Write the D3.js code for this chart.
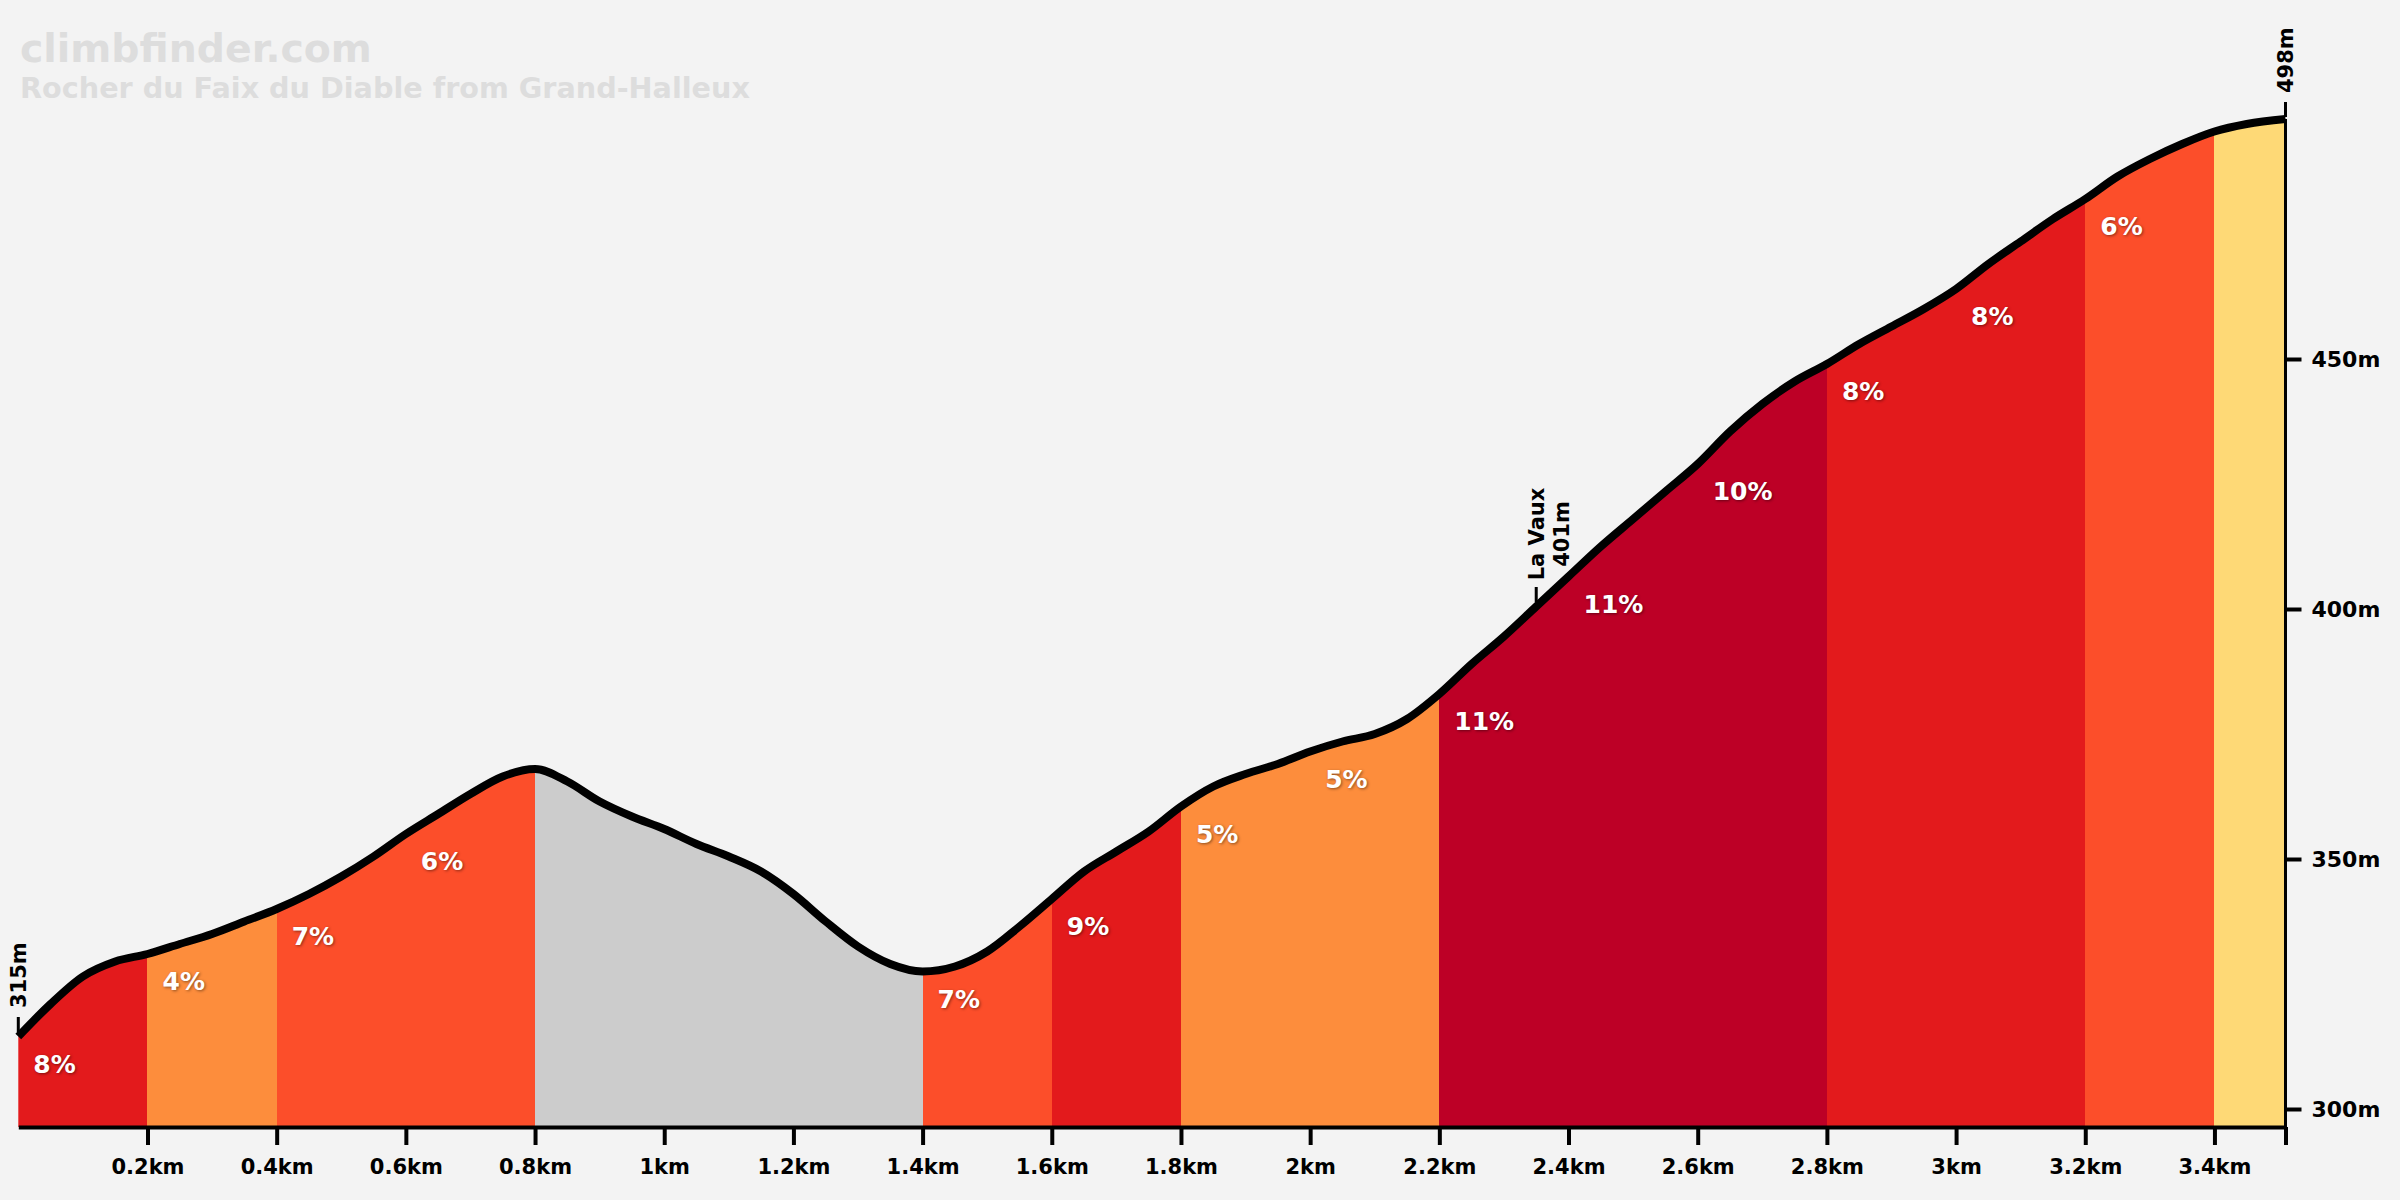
<!DOCTYPE html>
<html>
<head>
<meta charset="utf-8">
<script src="https://cdn.jsdelivr.net/npm/d3@7"></script>
<style>
  body { margin: 0; background: #f3f3f3; }
  svg { display: block; }
</style>
</head>
<body>
<svg id="chart" width="2400" height="1200"></svg>
<script>
// profile (km / m)
var distance = [0, 0.05, 0.1, 0.15, 0.2, 0.25, 0.3, 0.35, 0.4, 0.45, 0.5, 0.55, 0.6, 0.65, 0.7, 0.75, 0.8,
  0.85, 0.9, 0.95, 1.0, 1.05, 1.1, 1.15, 1.2, 1.25, 1.3, 1.35, 1.4, 1.45, 1.5, 1.55, 1.6, 1.65, 1.7, 1.75, 1.8,
  1.85, 1.9, 1.95, 2.0, 2.05, 2.1, 2.15, 2.2, 2.25, 2.3, 2.35, 2.4, 2.45, 2.5, 2.55, 2.6, 2.65, 2.7, 2.75, 2.8,
  2.85, 2.9, 2.95, 3.0, 3.05, 3.1, 3.15, 3.2, 3.25, 3.3, 3.35, 3.4, 3.45, 3.51];
var elevation = [314.5, 321, 326.5, 329.5, 331, 333, 335, 337.5, 340, 343, 346.5, 350.5, 355, 359, 363, 366.5, 368,
  365.5, 361.5, 358.5, 356, 353, 350.5, 347.5, 343, 337.5, 332.5, 329, 327.5, 328.5, 331.5, 336.5, 342, 347.5, 351.5, 355.5, 360.5,
  364.5, 367, 369, 371.5, 373.5, 375, 378, 383, 389, 394.5, 400.5, 406.5, 412.5, 418, 423.5, 429, 435.5, 441, 445.5, 449,
  453, 456.5, 460, 464, 469, 473.5, 478, 482, 486.5, 490, 493, 495.5, 497, 498];

// gradient sections
var segStart = [0, 0.2, 0.4, 0.6, 0.8, 1.4, 1.6, 1.8, 2.0, 2.2, 2.4, 2.6, 2.8, 3.0, 3.2, 3.4];
var segEnd   = [0.2, 0.4, 0.6, 0.8, 1.4, 1.6, 1.8, 2.0, 2.2, 2.4, 2.6, 2.8, 3.0, 3.2, 3.4, 3.51];
var segGrade = [8, 4, 7, 6, null, 7, 9, 5, 5, 11, 11, 10, 8, 8, 6, 3];
var segLabel = ["8%", "4%", "7%", "6%", "", "7%", "9%", "5%", "5%", "11%", "11%", "10%", "8%", "8%", "6%", ""];

// axes
var xTicks = [0.2, 0.4, 0.6, 0.8, 1.0, 1.2, 1.4, 1.6, 1.8, 2.0, 2.2, 2.4, 2.6, 2.8, 3.0, 3.2, 3.4];
var yTicks = [300, 350, 400, 450];

// points marked on the profile
var markerKm   = [0, 2.35, 3.51];
var markerElev = [315, 401, 498];
var markerName = ["", "La Vaux", ""];

var title = "climbfinder.com";
var subtitle = "Rocher du Faix du Diable from Grand-Halleux";

var svg = d3.select("#chart");
var bold = "'DejaVu Sans', sans-serif";

var x = d3.scaleLinear().domain([0, 3.51]).range([18.3, 2285.5]);
var y = d3.scaleLinear().domain([296.4, 500]).range([1127, 109]);
var bottom = y.range()[0];

function gradeColour(g) {
  if (g == null) return "#cccccc";
  if (g >= 10) return "#bd0026";
  if (g >= 8) return "#e31a1c";
  if (g >= 6) return "#fc4e2a";
  if (g >= 4) return "#fd8d3c";
  return "#fed976";
}

function elevAt(km) {
  var i = d3.bisectRight(distance, km) - 1;
  if (i >= distance.length - 1) return elevation[elevation.length - 1];
  var t = (km - distance[i]) / (distance[i + 1] - distance[i]);
  return elevation[i] + t * (elevation[i + 1] - elevation[i]);
}

var pts = distance.map(function (d, i) { return [d, elevation[i]]; });

var area = d3.area()
  .x(function (d) { return x(d[0]); })
  .y0(bottom)
  .y1(function (d) { return y(d[1]); })
  .curve(d3.curveMonotoneX);

var line = d3.line()
  .x(function (d) { return x(d[0]); })
  .y(function (d) { return y(d[1]); })
  .curve(d3.curveMonotoneX);

svg.append("defs").append("clipPath").attr("id", "profileClip")
  .append("path").attr("d", area(pts));

// title, sized to the width it has in the picture
function fitText(sel, width) {
  var w = sel.node().getComputedTextLength();
  sel.attr("font-size", +sel.attr("font-size") * width / w);
}
svg.append("text").attr("x", 20).attr("y", 62)
  .attr("font-family", bold).attr("font-weight", "bold").attr("font-size", 40)
  .attr("fill", "#dddddd").text(title).call(fitText, 352);
svg.append("text").attr("x", 20).attr("y", 98)
  .attr("font-family", bold).attr("font-weight", "bold").attr("font-size", 30)
  .attr("fill", "#dddddd").text(subtitle).call(fitText, 730);

// coloured sections
svg.append("g").attr("clip-path", "url(#profileClip)")
  .selectAll("rect").data(segStart).enter().append("rect")
  .attr("x", function (d) { return Math.round(x(d)); })
  .attr("width", function (d, i) { return Math.round(x(segEnd[i])) - Math.round(x(d)) + 1; })
  .attr("y", 0)
  .attr("height", bottom)
  .attr("shape-rendering", "crispEdges")
  .attr("fill", function (d, i) { return gradeColour(segGrade[i]); });

// profile line
svg.append("path").attr("d", line(pts))
  .attr("fill", "none").attr("stroke", "#000").attr("stroke-width", 8);

// right edge
svg.append("line")
  .attr("x1", x(3.51)).attr("x2", x(3.51))
  .attr("y1", y(elevAt(3.51))).attr("y2", bottom)
  .attr("stroke", "#000").attr("stroke-width", 3);

// grade labels
svg.append("g").selectAll("text").data(segStart).enter().append("text")
  .attr("x", function (d) { return x(d) + 15; })
  .attr("y", function (d) { return y(elevAt(d)) + 36; })
  .attr("font-family", bold).attr("font-weight", "bold").attr("font-size", 25)
  .attr("fill", "#fff")
  .style("text-shadow", "1px 1px 3px rgba(0,0,0,0.45)")
  .text(function (d, i) { return segLabel[i]; });

// x axis
var xAxis = svg.append("g").attr("transform", "translate(0," + bottom + ")")
  .call(d3.axisBottom(x).tickValues(xTicks.concat([3.51])).tickSize(18).tickSizeOuter(0).tickPadding(14)
    .tickFormat(function (d) { return d > 3.45 ? "" : (+d.toFixed(1)) + "km"; }));
xAxis.select(".domain").attr("stroke", "#000").attr("stroke-width", 4);
xAxis.selectAll(".tick line").attr("stroke", "#000").attr("stroke-width", 4);
xAxis.selectAll(".tick text").attr("fill", "#000")
  .attr("font-family", bold).attr("font-weight", "bold").attr("font-size", 21);

// y axis on the right
var yAxis = svg.append("g").attr("transform", "translate(" + x(3.51) + ",0)")
  .call(d3.axisRight(y).tickValues(yTicks).tickSize(16).tickPadding(10)
    .tickFormat(function (d) { return d + "m"; }));
yAxis.select(".domain").remove();
yAxis.selectAll(".tick line").attr("stroke", "#000").attr("stroke-width", 4);
yAxis.selectAll(".tick text").attr("fill", "#000")
  .attr("font-family", bold).attr("font-weight", "bold").attr("font-size", 22);

// point markers
var mk = svg.append("g").selectAll("g").data(markerKm).enter().append("g")
  .attr("transform", function (d, i) { return "translate(" + x(d) + "," + y(markerElev[i]) + ")"; });
mk.append("line").attr("x1", 0).attr("x2", 0).attr("y1", -2).attr("y2", -17)
  .attr("stroke", "#000").attr("stroke-width", 3);
mk.each(function (d, i) {
  var g = d3.select(this);
  var t = g.append("text").attr("transform", "rotate(-90)")
    .attr("font-family", bold).attr("font-weight", "bold").attr("font-size", 21)
    .attr("fill", "#000");
  if (markerName[i]) {
    t.attr("text-anchor", "middle").attr("x", 70);
    t.append("tspan").attr("x", 70).attr("dy", "0.35em").text(markerName[i]);
    t.append("tspan").attr("x", 70).attr("dy", "1.2em").text(markerElev[i] + "m");
  } else {
    t.attr("x", 26).attr("dy", "0.35em").text(markerElev[i] + "m");
  }
});
</script>
</body>
</html>
